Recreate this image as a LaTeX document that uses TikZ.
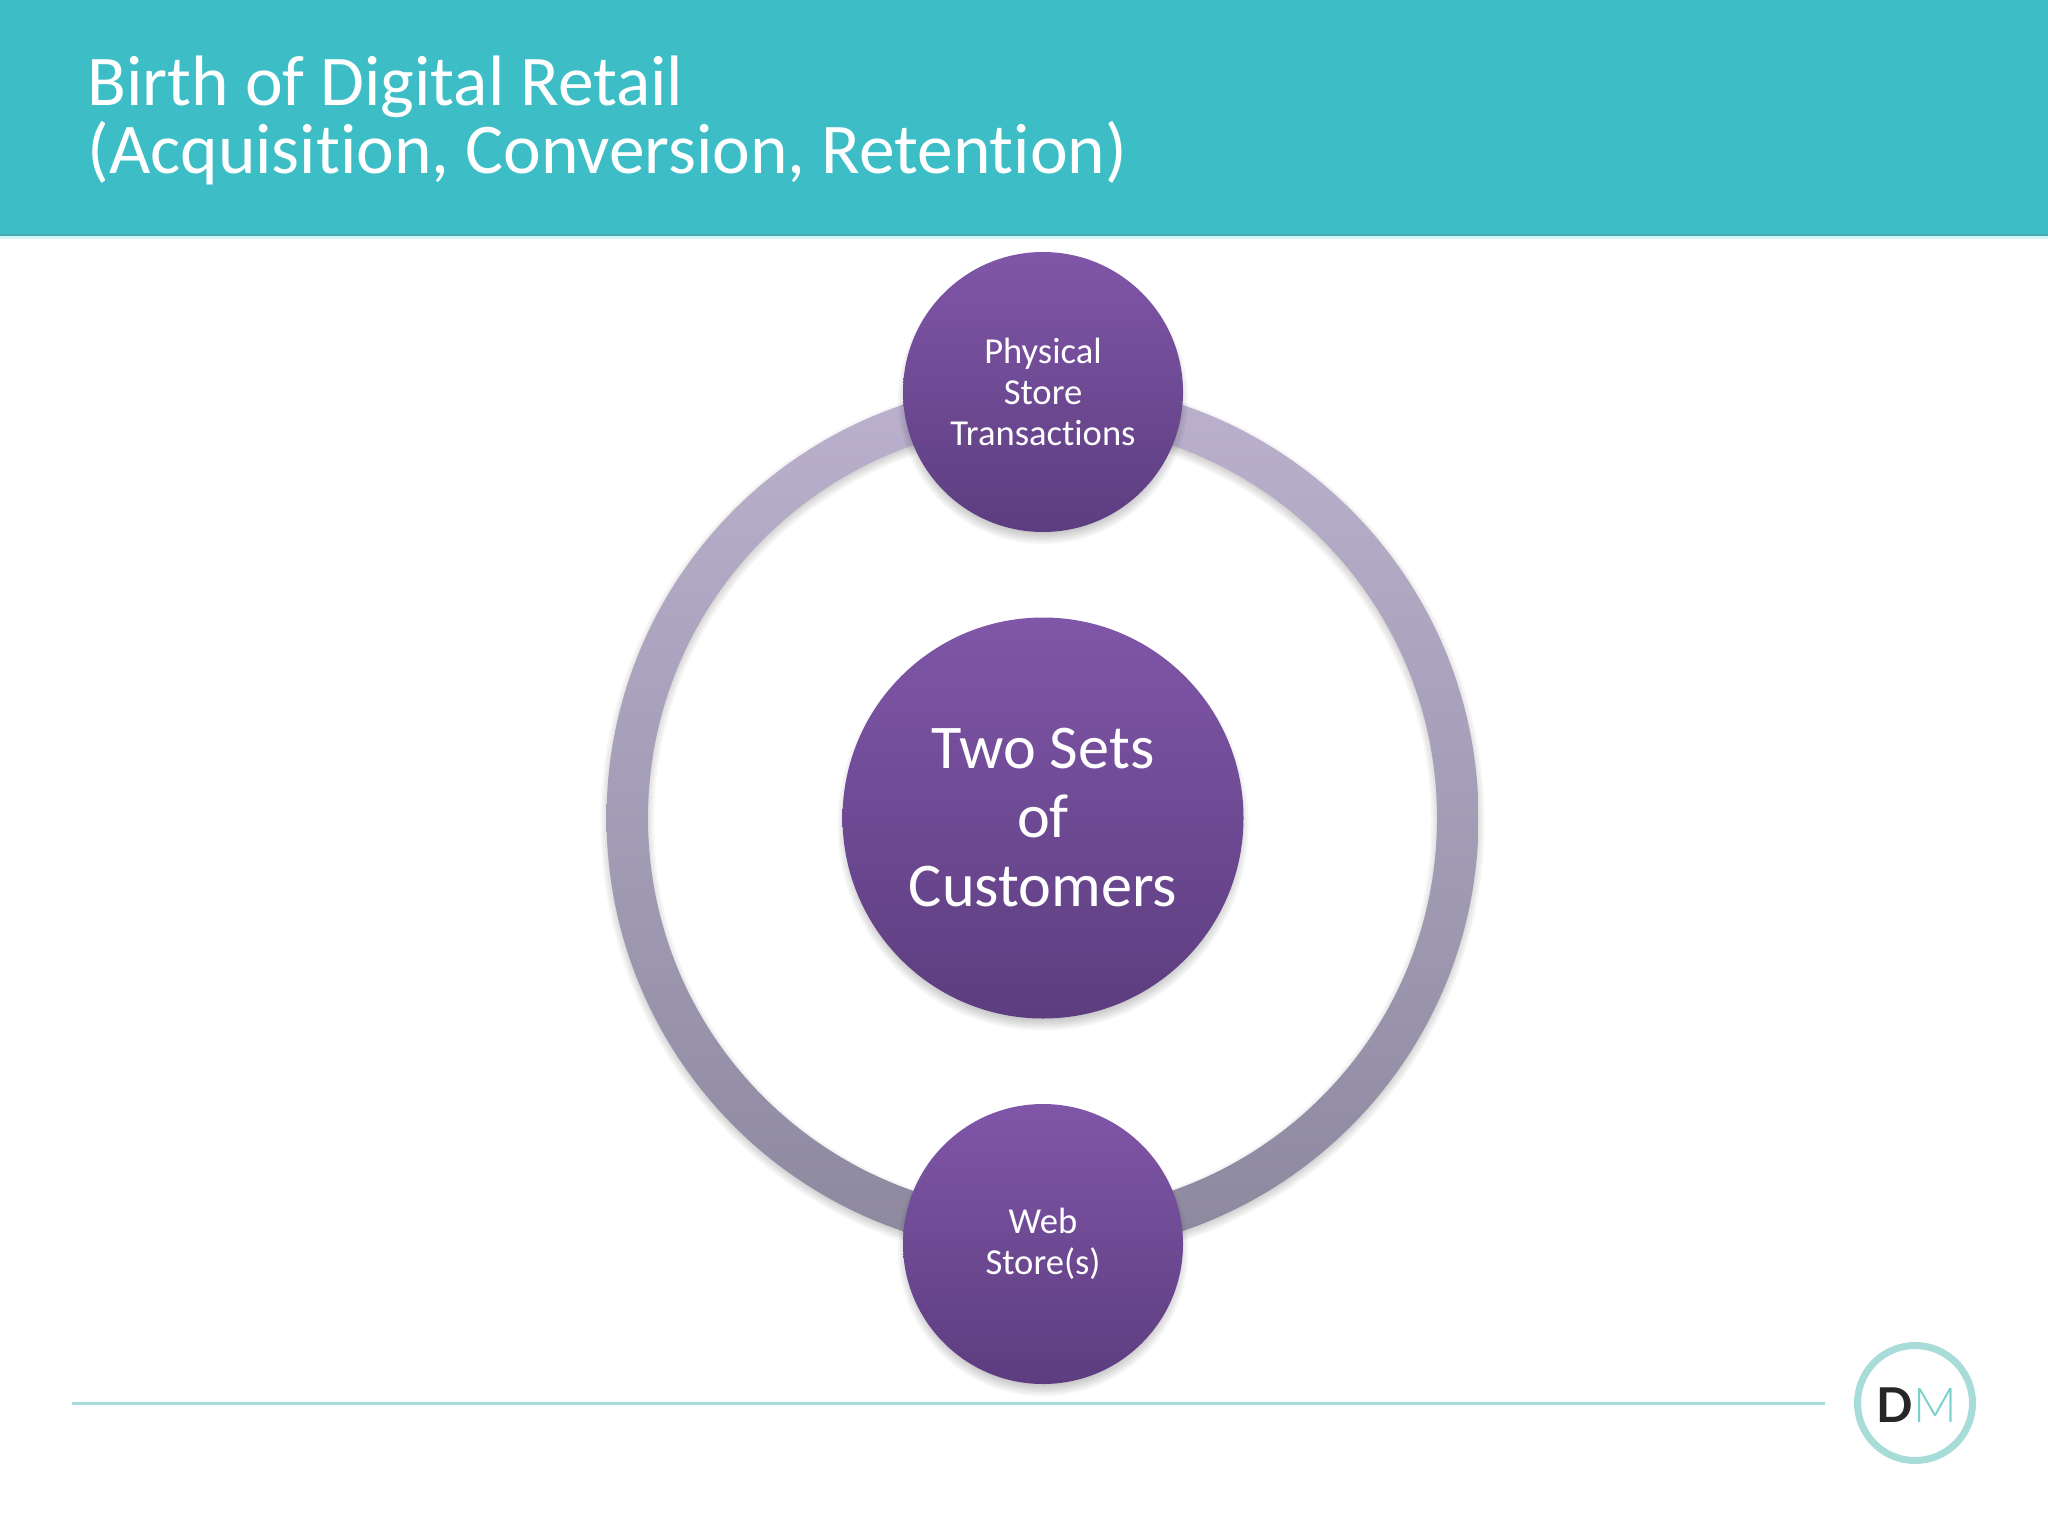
\documentclass[tikz,border=0pt]{standalone}
\usepackage{fontspec}
\setmainfont[Ligatures=NoCommon]{Carlito}
\newfontfamily\logofont{Lato}
\newfontfamily\logolight{Lato Light}
\definecolor{banner}{HTML}{3DBEC7}
\definecolor{bannerdark}{HTML}{45A9B0}
\definecolor{bannerpale}{HTML}{D5F4F4}
\definecolor{purpletop}{HTML}{8056A8}
\definecolor{purplebot}{HTML}{5C3D7F}
\definecolor{ringtop}{HTML}{BBB1CE}
\definecolor{ringbot}{HTML}{8C889E}
\definecolor{tealline}{HTML}{A8DCD8}
\definecolor{logoink}{HTML}{262626}
\definecolor{logoteal}{HTML}{78D2CA}
\tikzset{
  x=0.5pt,y=-0.5pt,
  hubcircle/.style={circle,inner sep=0pt,outer sep=0pt,top color=purpletop,bottom color=purplebot,text=white,align=center},
  smallhub/.style={hubcircle,minimum size=140pt,font=\fontsize{18.3}{20.5}\selectfont},
  bighub/.style={hubcircle,minimum size=200.5pt,font=\fontsize{31.1}{34.5}\selectfont},
  softshadow/.style={fill=black,opacity=0.035,draw=none}
}
\begin{document}
\begin{tikzpicture}
\useasboundingbox (0,0) rectangle (2048,1536);
\fill[white] (0,0) rectangle (2048,1536);
% banner
\fill[bannerpale] (0,235) rectangle (2048,239);
\fill[bannerdark] (0,233) rectangle (2048,236);
\fill[banner] (0,0) rectangle (2048,234);
\node[anchor=north west,inner sep=0pt,text=white,align=left,font=\fontsize{35.7}{34}\selectfont] (title) at (87,56) {Birth of Digital Retail\\(Acquisition, Conversion, Retention)};
% ring
\foreach \k in {1,3,5,7,9,11,13}
  \path[softshadow,even odd rule] (1042.5,{818+4}) circle[radius={436+7-\k}] (1042.5,{818+4}) circle[radius={394.5-7+\k}];
\path[even odd rule,top color=ringtop,bottom color=ringbot,draw=none] (1042.5,818) circle[radius=436] (1042.5,818) circle[radius=394.5];
% footer
\coordinate (footL) at (72,1403);
\coordinate (footR) at (1825,1403);
\draw[tealline,line width=1.5pt] (footL) -- (footR);
% logo
\node[circle,draw=tealline,line width=3.5pt,minimum size=57.5pt,inner sep=0pt,fill=white] (logo) at (1915,1403) {};
\node[anchor=base east,inner sep=0pt,text=logoink,font=\logofont\bfseries\fontsize{24}{24}\selectfont] (logoD) at (1913,1422) {D};
\node[anchor=base west,inner sep=0pt,text=logoteal,font=\logolight\fontsize{24}{24}\selectfont] (logoM) at (1913,1422) {M};
% circle shadows
\foreach \cy/\rr in {392/140,818/200.5,1244/140}
  \foreach \k in {0,2,4,6,8,10}
    \fill[softshadow] (1043,{\cy+7}) circle[radius={\rr+5-\k}];
% circles
\node[smallhub] (phys) at (1043,392) {Physical\\Store\\Transactions};
\node[bighub] (two) at (1043,818) {Two Sets\\of\\Customers};
\node[smallhub] (web) at (1043,1244) {Web\\Store(s)};
\end{tikzpicture}
\end{document}
